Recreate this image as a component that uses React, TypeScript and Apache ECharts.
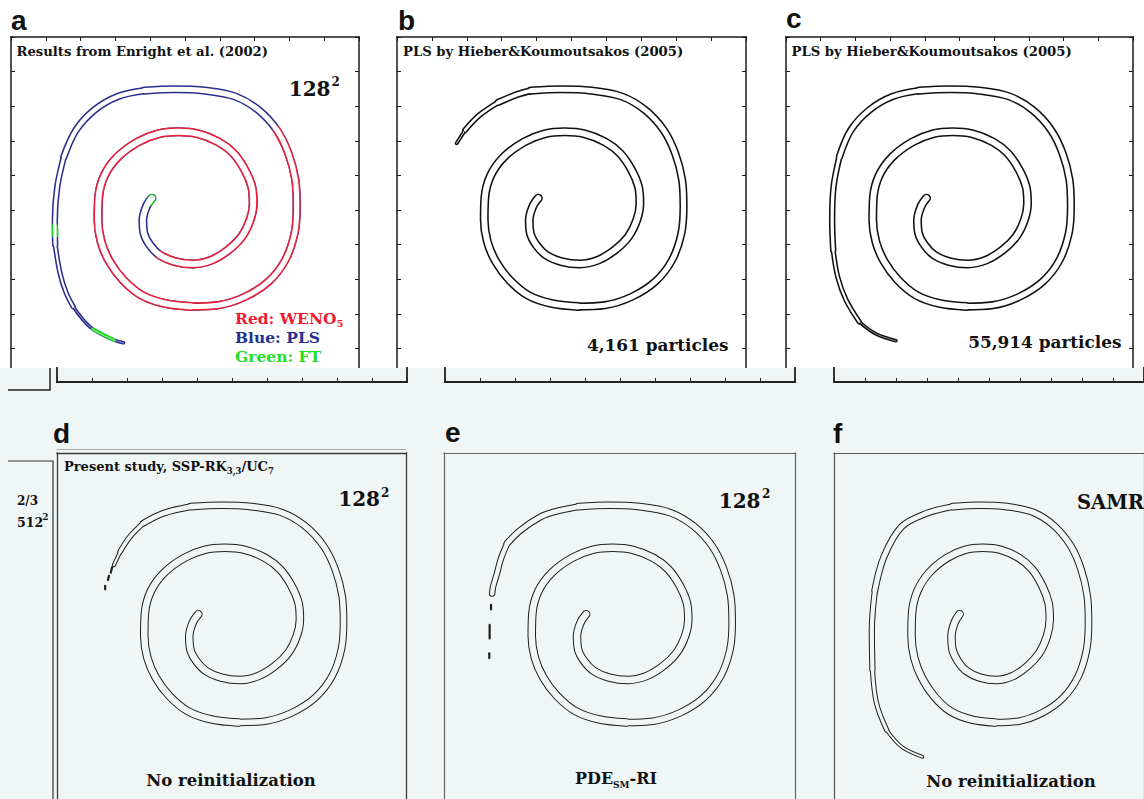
import { useEffect, useRef } from 'react';
import * as echarts from 'echarts';

type Pt = [number, number];

// ---- canvas ----
const W = 1144;
const H = 799;
const TOP_BG = '#ffffff';
const LOW_BG = '#f0f5f5';
const SPLIT_Y = 368;

// ---- axes (unit square, ticks every 0.1) ----
const axisMin = 0;
const axisMax = 1;
const tickStep = 0.1;

// ---- filament centre line, from the rounded inner tip outwards ----
const spiralBody: Pt[] = [
  [0.405, 0.534], [0.389, 0.510], [0.379, 0.471], [0.382, 0.433], [0.399, 0.399],
  [0.427, 0.370], [0.471, 0.351], [0.524, 0.344], [0.576, 0.355], [0.624, 0.384],
  [0.663, 0.423], [0.687, 0.471], [0.696, 0.519], [0.692, 0.567], [0.672, 0.616],
  [0.639, 0.664], [0.596, 0.697], [0.538, 0.720], [0.480, 0.726], [0.423, 0.720],
  [0.365, 0.697], [0.307, 0.654], [0.269, 0.601], [0.252, 0.538], [0.250, 0.471],
  [0.259, 0.408], [0.283, 0.351], [0.322, 0.298], [0.375, 0.254], [0.442, 0.230],
  [0.519, 0.221], [0.596, 0.225], [0.672, 0.249], [0.740, 0.293], [0.788, 0.355],
  [0.815, 0.433], [0.821, 0.510], [0.817, 0.587], [0.797, 0.664], [0.764, 0.731],
  [0.711, 0.789], [0.644, 0.828], [0.557, 0.845], [0.471, 0.849], [0.384, 0.845],
];

// ---- outer tails, one per run ----
const tailA: Pt[] = [
  [0.307, 0.828], [0.240, 0.789], [0.187, 0.731], [0.152, 0.654], [0.133, 0.567],
  [0.126, 0.471], [0.127, 0.400], [0.141, 0.317], [0.158, 0.262], [0.179, 0.220],
  [0.227, 0.162], [0.284, 0.129], [0.323, 0.116],
];
const tailB: Pt[] = [[0.345, 0.834], [0.290, 0.811], [0.235, 0.773], [0.195, 0.731], [0.171, 0.693]];
const tailC: Pt[] = [
  [0.307, 0.828], [0.240, 0.789], [0.187, 0.731], [0.154, 0.654], [0.137, 0.567],
  [0.133, 0.471], [0.136, 0.384], [0.149, 0.307], [0.173, 0.240], [0.211, 0.177],
  [0.259, 0.142], [0.317, 0.122],
];
const tailD: Pt[] = [[0.305, 0.826], [0.247, 0.797], [0.209, 0.758], [0.181, 0.715], [0.163, 0.676]];
const tailE: Pt[] = [
  [0.314, 0.830], [0.276, 0.816], [0.218, 0.777], [0.180, 0.739], [0.161, 0.691],
  [0.151, 0.652], [0.140, 0.614], [0.137, 0.594],
];
const tailF: Pt[] = [
  [0.300, 0.826], [0.218, 0.787], [0.161, 0.700], [0.132, 0.604], [0.122, 0.488],
  [0.124, 0.373], [0.137, 0.277], [0.170, 0.199], [0.218, 0.151], [0.285, 0.122],
];

// detached fragments left behind by the tail
const fragmentsD: Pt[][] = [
  [[0.158, 0.670], [0.154, 0.654]],
  [[0.149, 0.645], [0.146, 0.633]],
  [[0.138, 0.616], [0.138, 0.606]],
];
const fragmentsE: Pt[][] = [
  [[0.134, 0.561], [0.134, 0.548]],
  [[0.130, 0.503], [0.130, 0.464]],
  [[0.129, 0.421], [0.129, 0.407]],
];

// run a: index range (along its full path) where the WENO interface is drawn,
// and the short pieces where the front-tracking interface shows
const wenoRange = [5, 39];
const ftPieces: Pt[][] = [
  [[0.405, 0.534], [0.399, 0.524]],
  [[0.126, 0.452], [0.127, 0.428]],
  [[0.236, 0.155], [0.296, 0.124]],
];

// ---- text ----
const panelLetters = ['a', 'b', 'c', 'd', 'e', 'f'];
const titleA = 'Results from Enright et al. (2002)';
const titleBC = 'PLS by Hieber&Koumoutsakos (2005)';
const particleCounts = ['4,161 particles', '55,914 particles'];
const legendA = [
  { text: 'Red: WENO', sub: '5', color: '#ee1c2e' },
  { text: 'Blue: PLS', sub: '', color: '#24318f' },
  { text: 'Green: FT', sub: '', color: '#1fe01f' },
];
const resolution = '128';
const noReinit = 'No reinitialization';

const serif = '"DejaVu Serif", "Liberation Serif", serif';
const sans = '"Liberation Sans", Arial, Helvetica, sans-serif';

const grids: any[] = [];
const xAxes: any[] = [];
const yAxes: any[] = [];

interface FrameOpt {
  left: number; top: number; width: number; height: number;
  color: string; lw: number;
  ticks: boolean; showTop: boolean; showBottom: boolean; bottomTicks?: boolean;
  z?: number; topRule?: string;
}

function addFrame(f: FrameOpt) {
  const g = grids.length;
  grids.push({ left: f.left, top: f.top, width: f.width, height: f.height });
  const base = {
    type: 'value', min: axisMin, max: axisMax, interval: tickStep, gridIndex: g,
    axisLabel: { show: false }, splitLine: { show: false }, z: f.z ?? 0, silent: true,
  };
  const line = (show: boolean) => ({ show, onZero: false, lineStyle: { color: f.color, width: f.lw, cap: 'square' } });
  const tick = (show: boolean) => ({ show, inside: true, length: 4, lineStyle: { color: f.color, width: 1 } });
  const xi = xAxes.length;
  xAxes.push({ ...base, position: 'bottom', axisLine: line(f.showBottom), axisTick: tick(!!f.bottomTicks) });
  xAxes.push({ ...base, position: 'top', axisLine: line(f.showTop), axisTick: tick(f.ticks && f.showTop) });
  if (f.topRule) {
    xAxes.push({
      ...base, position: 'top', offset: 4,
      axisLine: { show: true, onZero: false, lineStyle: { color: f.topRule, width: 1 } },
      axisTick: { show: false },
    });
  }
  const yi = yAxes.length;
  yAxes.push({ ...base, position: 'left', axisLine: line(true), axisTick: tick(f.ticks) });
  yAxes.push({ ...base, position: 'right', axisLine: line(true), axisTick: tick(f.ticks) });
  return { x: xi, y: yi };
}

function slices(path: Pt[], cuts: number[], widths: number[], from = 0, to = path.length - 1) {
  const out: { data: Pt[]; width: number }[] = [];
  for (let k = 0; k < widths.length; k++) {
    const a = Math.max(cuts[k], from);
    const b = Math.min(cuts[k + 1], to);
    if (b > a) out.push({ data: path.slice(a, b + 1), width: widths[k] });
  }
  return out;
}

function line(ax: { x: number; y: number }, data: Pt[], color: string, width: number, z: number) {
  return {
    type: 'line', xAxisIndex: ax.x, yAxisIndex: ax.y, data,
    smooth: 0.35, symbol: 'none', showSymbol: false, clip: false, silent: true,
    emphasis: { disabled: true }, z,
    lineStyle: { color, width, cap: 'round', join: 'round' },
  };
}

// a filament drawn as an outlined band: a wide dark stroke with a narrower background stroke inside
function band(ax: { x: number; y: number }, path: Pt[], cuts: number[], widths: number[], ink: string, fill: string, edge: number, zBase: number) {
  const out: any[] = [];
  for (const s of slices(path, cuts, widths)) {
    out.push(line(ax, s.data, ink, s.width, zBase));
    const inner = s.width - 2 * edge;
    if (inner > 0.45) out.push(line(ax, s.data, fill, inner, zBase + 3));
  }
  return out;
}

function txt(x: number, y: number, text: string, size: number, extra: any = {}) {
  return {
    type: 'text', x, y, z: 70, silent: true,
    style: {
      text, fontFamily: serif, fontWeight: 'bold', fontSize: size, fill: '#111',
      align: 'left', verticalAlign: 'middle', ...extra,
    },
  };
}

function richTxt(x: number, y: number, parts: [string, string][], size: number, small: number, color: string, align = 'left') {
  const base = { fontFamily: serif, fontWeight: 'bold', fill: color };
  return {
    type: 'text', x, y, z: 70, silent: true,
    style: {
      text: parts.filter((p) => p[0]).map(([t, k]) => `{${k}|${t}}`).join(''),
      align, verticalAlign: 'middle', ...base, fontSize: size,
      rich: {
        m: { ...base, fontSize: size, lineHeight: size + 5, verticalAlign: 'middle' },
        s: { ...base, fontSize: small, lineHeight: small + 1, verticalAlign: 'bottom' },
      },
    },
  };
}

function buildOption() {
  const series: any[] = [];

  // top row frames (ticked, black)
  const top = { color: '#1a1a1a', lw: 1.5, ticks: true, showTop: true, showBottom: false };
  const axA = addFrame({ left: 11, top: 37, width: 348, height: 346, ...top });
  const axB = addFrame({ left: 397, top: 37, width: 349, height: 346, ...top });
  const axC = addFrame({ left: 786, top: 37, width: 347, height: 346, ...top });
  // bottom row frames (plain)
  const axD = addFrame({ left: 57, top: 453, width: 349, height: 346, color: '#3a3a3a', lw: 1.3, ticks: false, showTop: true, showBottom: false, topRule: '#a8a8a8' });
  const axE = addFrame({ left: 444, top: 453, width: 351, height: 346, color: '#666666', lw: 1.2, ticks: false, showTop: true, showBottom: false });
  const axF = addFrame({ left: 834, top: 453, width: 348, height: 346, color: '#555555', lw: 1.2, ticks: false, showTop: true, showBottom: false });
  // lower edges of the row in between
  const strip = { top: 368, height: 14, color: '#222222', lw: 1.8, ticks: false, showTop: false, showBottom: true, bottomTicks: true, z: 60 };
  addFrame({ left: 57, width: 350, ...strip });
  addFrame({ left: 445, width: 350, ...strip });
  addFrame({ left: 834, width: 348, ...strip });

  const edgeTop = 1.55;
  const edgeLow = 1.0;

  // a: PLS (blue) everywhere, WENO (red) and FT (green) over it
  const pathA = [...spiralBody, ...tailA];
  const cutsA = [0, 30, 44, 48, 51, 54, 57];
  const widthsA = [9, 8.2, 7.4, 6.4, 5.2, 3.6];
  const ftWidths = [8, 6.4, 3.6];
  for (const s of slices(pathA, cutsA, widthsA)) series.push(line(axA, s.data, '#2a2f8c', s.width, 3));
  for (const s of slices(pathA, cutsA, widthsA, wenoRange[0], wenoRange[1])) series.push(line(axA, s.data, '#e8203a', s.width, 4));
  ftPieces.forEach((p, i) => series.push(line(axA, p, '#22d822', ftWidths[i], 5)));
  for (const s of slices(pathA, cutsA, widthsA)) {
    const inner = s.width - 2 * edgeTop;
    if (inner > 0.45) series.push(line(axA, s.data, TOP_BG, inner, 6));
  }

  // b, c: particle level set
  series.push(...band(axB, [...spiralBody, ...tailB], [0, 30, 44, 46, 48, 49], [9, 8.2, 7.2, 5.8, 4], '#111111', TOP_BG, edgeTop, 3));
  series.push(...band(axC, [...spiralBody, ...tailC], [0, 30, 44, 48, 51, 54, 56], [9, 8.2, 7.4, 6.4, 5.2, 3.6], '#111111', TOP_BG, edgeTop, 3));

  // d, e, f
  series.push(...band(axD, [...spiralBody, ...tailD], [0, 30, 44, 46, 48, 49], [8.5, 7.6, 6.8, 5.6, 4.2], '#1e1e1e', LOW_BG, edgeLow, 3));
  series.push(...band(axE, [...spiralBody, ...tailE], [0, 30, 44, 48, 52], [8.5, 7.6, 7, 6.4], '#1e1e1e', LOW_BG, edgeLow, 3));
  series.push(...band(axF, [...spiralBody, ...tailF], [0, 30, 44, 48, 50, 52, 54], [8.5, 7.6, 7, 6.2, 5.2, 3.8], '#1e1e1e', LOW_BG, edgeLow, 3));
  for (const f of fragmentsD) series.push(line(axD, f, '#1e1e1e', 2.2, 3));
  for (const f of fragmentsE) series.push(line(axE, f, '#1e1e1e', 2.2, 3));

  const graphics: any[] = [
    // the lower picture overlaps the bottom of the upper row
    { type: 'rect', z: 50, silent: true, shape: { x: 0, y: SPLIT_Y, width: W, height: 32 }, style: { fill: LOW_BG } },
    { type: 'polyline', z: 60, silent: true, shape: { points: [[8, 390], [50, 390], [50, SPLIT_Y]] }, style: { stroke: '#222', lineWidth: 1.5, fill: 'none' } },
    { type: 'polyline', z: 10, silent: true, shape: { points: [[8, 461], [53, 461], [53, H + 2]] }, style: { stroke: '#333', lineWidth: 1.2, fill: 'none' } },

    // panel letters
    ...[[11, 20], [398, 20], [786, 18.5], [53, 433.5], [445, 432.5], [833, 433.5]].map(([x, y], i) =>
      txt(x, y, panelLetters[i], 28, { fontFamily: sans })),

    // top row annotations
    txt(16.5, 51, titleA, 13.2),
    txt(403, 51, titleBC, 13.2),
    txt(791.5, 51, titleBC, 13.2),
    txt(330.5, 88.5, resolution, 20, { align: 'right' }),
    txt(331.5, 82, '2', 12),
    ...legendA.map((l, i) => richTxt(235, 318.5 + i * 19, [[l.text, 'm'], [l.sub, 's']], 15.5, 10, l.color)),
    txt(728.5, 345, particleCounts[0], 16.9, { align: 'right' }),
    txt(1121.5, 341.5, particleCounts[1], 16.9, { align: 'right' }),

    // bottom row annotations
    txt(17, 500.5, '2/3', 12),
    txt(17, 522, '512', 12.5),
    txt(42.5, 517, '2', 8.5),
    richTxt(64, 466.5, [['Present study, SSP-RK', 'm'], ['3,3', 's'], ['/UC', 'm'], ['7', 's']], 13, 8.5, '#111'),
    txt(380, 499, resolution, 20, { align: 'right' }),
    txt(381, 492.5, '2', 12),
    txt(760.5, 500.5, resolution, 20, { align: 'right' }),
    txt(762, 494, '2', 12),
    txt(1077, 502.5, 'SAMR', 19.5),
    txt(231, 780, noReinit, 16.5, { align: 'center' }),
    richTxt(616, 778.5, [['PDE', 'm'], ['SM', 's'], ['-RI', 'm']], 16, 9, '#111', 'center'),
    txt(1011, 781.5, noReinit, 16.5, { align: 'center' }),
  ];

  return {
    animation: false,
    backgroundColor: 'transparent',
    grid: grids,
    xAxis: xAxes,
    yAxis: yAxes,
    series,
    graphic: { elements: graphics },
  };
}

export default function App() {
  const ref = useRef<HTMLDivElement>(null);
  useEffect(() => {
    if (!ref.current) return;
    grids.length = 0;
    xAxes.length = 0;
    yAxes.length = 0;
    const chart = echarts.init(ref.current, undefined, { renderer: 'svg', width: W, height: H });
    chart.setOption(buildOption());
    return () => chart.dispose();
  }, []);
  return (
    <div
      ref={ref}
      style={{
        position: 'absolute', left: 0, top: 0, width: W, height: H,
        background: `linear-gradient(to bottom, ${TOP_BG} 0px, ${TOP_BG} ${SPLIT_Y}px, ${LOW_BG} ${SPLIT_Y}px, ${LOW_BG} 100%)`,
      }}
    />
  );
}
